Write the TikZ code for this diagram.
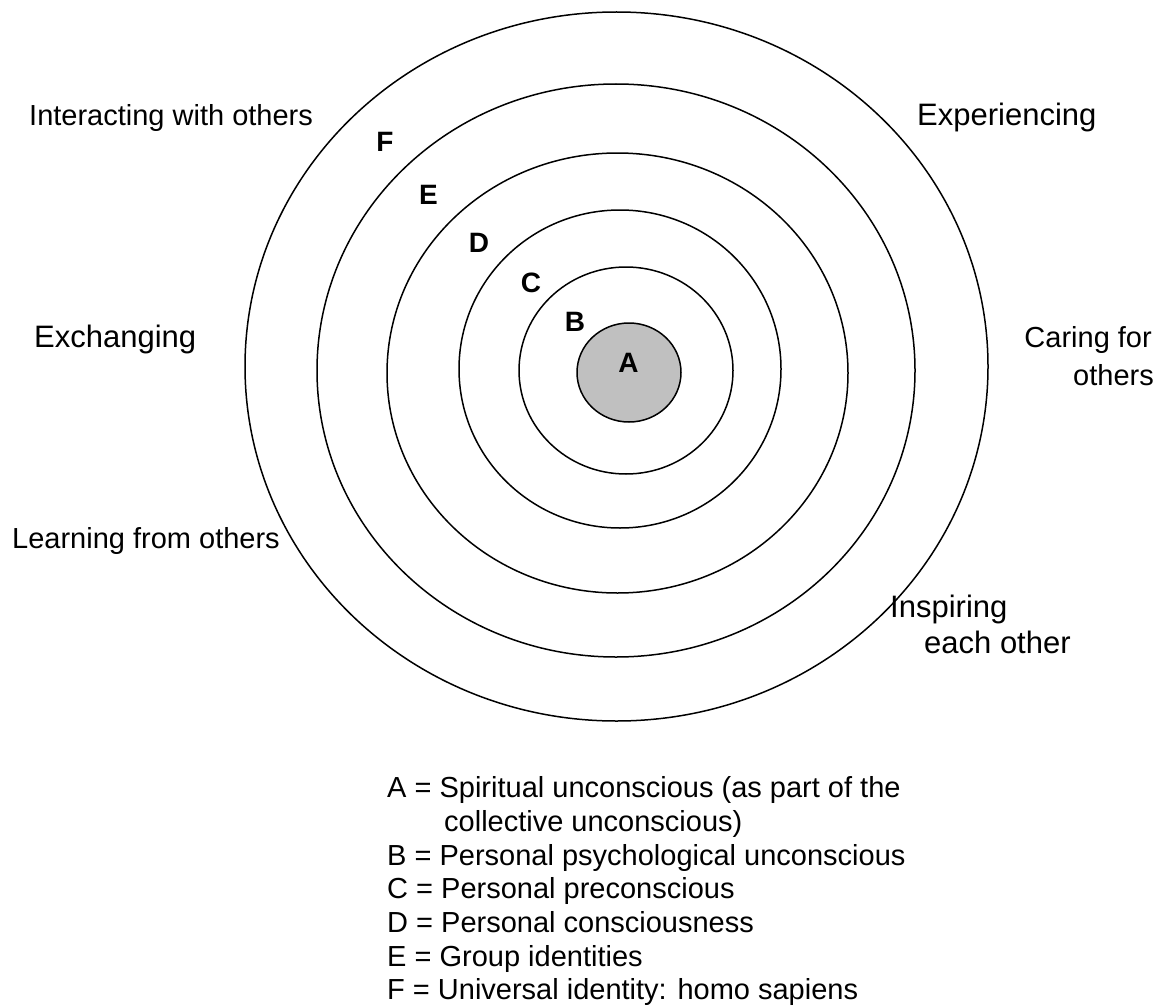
\documentclass[tikz,border=0pt]{standalone}
\usepackage{fontspec}
\setmainfont{Liberation Sans}
\definecolor{ringgray}{HTML}{C0C0C0}
\tikzset{
  ring/.style={draw=black, line width=1.5pt},
  txa/.style={font=\fontsize{29}{33}\selectfont, inner sep=0pt, anchor=base west},
  txb/.style={font=\fontsize{31}{36}\selectfont, inner sep=0pt, anchor=base west},
  ltr/.style={font=\bfseries\fontsize{28}{32}\selectfont, inner sep=0pt, anchor=center}
}
\begin{document}
\begin{tikzpicture}[x=1pt, y=-1pt]
\useasboundingbox (0,0) rectangle (1164,1006);
% rings
\draw[ring] (616.5,366.5) ellipse [x radius=371.5, y radius=354.5];
\draw[ring] (616,370.5) ellipse [x radius=299, y radius=286.5];
\draw[ring] (617.5,373) ellipse [x radius=230.5, y radius=220];
\draw[ring] (620,369) ellipse [x radius=161, y radius=159];
\draw[ring] (626,370.5) ellipse [x radius=107, y radius=103.5];
\draw[ring, fill=ringgray] (629,372.5) ellipse [x radius=52, y radius=49.5];
% ring letters
\node[ltr] (lA) at (628.5,363) {A};
\node[ltr] (lB) at (575,321.5) {B};
\node[ltr] (lC) at (531,282.5) {C};
\node[ltr] (lD) at (479,243) {D};
\node[ltr] (lE) at (428.5,194.5) {E};
\node[ltr] (lF) at (385,142) {F};
% outside labels
\node[txa] (inter) at (29,125) {Interacting with others};
\node[txb] (exper) at (917,126) {Experiencing};
\node[txb] (exch) at (34,347) {Exchanging};
\node[txa, anchor=base east] (car1) at (1152,347) {Caring for};
\node[txa, anchor=base east] (car2) at (1154,385) {others};
\node[txa] (learn) at (12,548) {Learning from others};
\node[txb] (insp1) at (890,617) {Inspiring};
\node[txb] (insp2) at (924,653) {each other};
% legend
\node[txa] (g1) at (387,797) {A = Spiritual unconscious (as part of the};
\node[txa] (g2) at (444,831) {collective unconscious)};
\node[txa] (g3) at (387,865) {B = Personal psychological unconscious};
\node[txa] (g4) at (387,898) {C = Personal preconscious};
\node[txa] (g5) at (387,932) {D = Personal consciousness};
\node[txa] (g6) at (387,966) {E = Group identities};
\node[txa] (g7) at (387,999) {F = Universal identity: homo sapiens};
\end{tikzpicture}
\end{document}
